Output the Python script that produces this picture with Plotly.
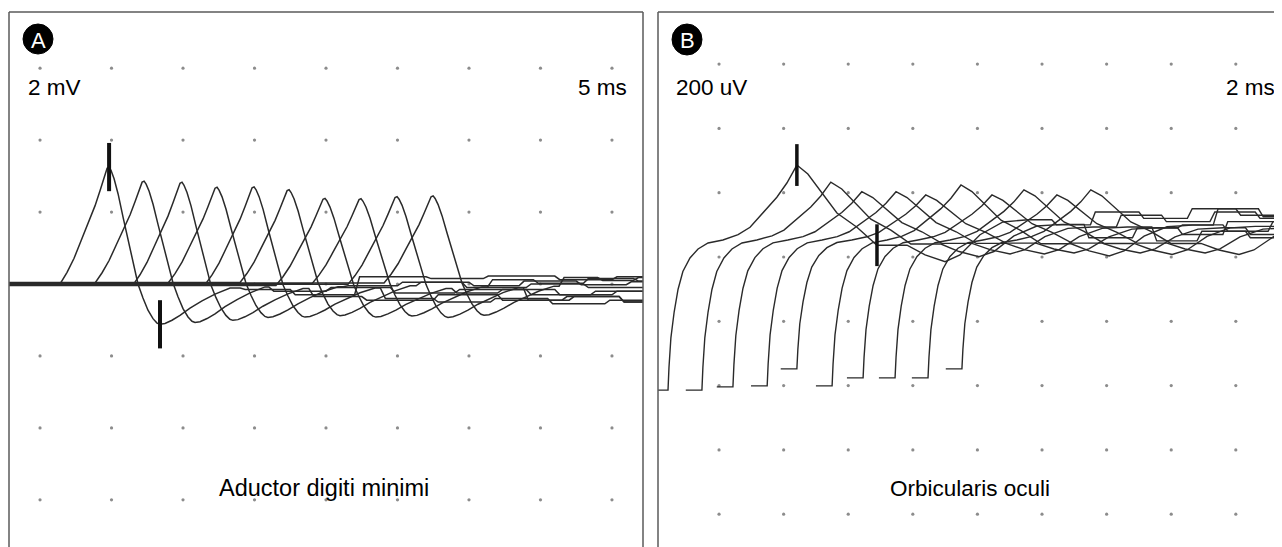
import plotly.graph_objects as go

# page body has an 8 px margin: the figure covers window pixels 8..1282 x 8..547
OFF = 8
W, H = 1282 - OFF, 547 - OFF
FONT = "Liberation Sans, Arial, sans-serif"
LINE = "#2a2a2a"

# ---------------- Panel A : Aductor digiti minimi (5 ms/div, 2 mV/div) ----------------
A_onset_ms = [1.40, 3.85, 6.50, 8.95, 11.54, 13.99, 16.50, 19.02, 21.54, 24.06]
A_base_mV = [0.0, 0.03, -0.03, 0.02, -0.02, 0.04, -0.04, 0.01, -0.01, 0.03]
A_peak_mV = [3.25, 2.83, 2.86, 2.67, 2.72, 2.58, 2.42, 2.36, 2.44, 2.42]
A_trough_mV = [-1.12, -1.10, -0.98, -0.95, -0.90, -0.92, -0.88, -0.90, -0.92, -0.90]
# waveform of the first sweep: time after onset (ms) and amplitude relative to peak / trough
A_shape_ms = [0.0, 0.49, 0.98, 1.47, 1.96, 2.45, 2.80, 3.01, 3.15, 3.29, 3.43, 3.57, 3.78, 4.06,
              4.41, 4.76, 5.10, 5.45,
              5.80, 6.15, 6.50, 6.78, 6.99, 7.34, 7.83, 8.39, 9.09, 9.93, 10.84, 11.89]
A_shape_rel = [0, .10, .22, .37, .52, .67, .80, .89, .95, .99, 1.0, .97, .90, .77,
               .57, .37, .17, 0,
               -.35, -.65, -.86, -.97, -1.0, -.98, -.90, -.78, -.60, -.42, -.25, -.10]
# late baseline of each sweep: (time ms, level mV) knots
A_tail = [
    [(14.0, -0.15), (17.5, -0.30), (22.0, 0.20), (27.0, 0.15), (31.0, 0.22), (36.0, 0.12), (40.0, 0.20)],
    [(16.0, -0.20), (20.0, -0.10), (24.5, -0.25), (29.0, -0.15), (34.0, -0.30), (38.5, -0.20)],
    [(18.8, -0.35), (22.5, -0.45), (27.5, -0.30), (32.0, -0.45), (36.5, -0.35), (40.5, -0.50)],
    [(21.2, -0.05), (25.0, 0.05), (29.5, -0.10), (34.0, 0.00), (38.0, -0.10)],
    [(23.8, -0.40), (27.5, -0.50), (31.5, -0.40), (35.5, -0.55), (39.5, -0.45)],
    [(26.3, 0.05), (30.0, -0.05), (33.5, 0.08), (37.5, -0.02), (41.0, 0.06)],
    [(28.8, -0.25), (32.0, -0.15), (36.0, -0.30), (40.0, -0.20)],
    [(31.3, 0.12), (34.5, 0.02), (38.0, 0.15), (41.5, 0.08)],
    [(33.8, -0.45), (37.0, -0.35), (40.5, -0.50)],
    [(36.3, 0.18), (39.0, 0.10), (41.5, 0.18)],
]
A_xrange = [-2.17, 42.17]
A_yrange = [-7.31, 7.56]
A_dot_x = [0, 5, 10, 15, 20, 25, 30, 35, 40]
A_dot_y = [-6, -4, -2, 0, 2, 4, 6]
A_marker_half = 0.67

# ---------------- Panel B : Orbicularis oculi (2 ms/div, 200 uV/div) ----------------
B_onset_ms = [-1.58, -0.53, 0.43, 1.49, 2.41, 3.50, 4.46, 5.45, 6.47, 7.52]
B_floor_uV = [-414, -414, -404, -401, -348, -401, -376, -376, -376, -348]
B_level_uV = 53
B_peak_uV = [233, 180, 150, 150, 140, 171, 140, 156, 140, 156]
# recovery from the stimulus offset: time after onset (ms), fraction of the way to the level
B_rise_ms = [-0.50, 0.0, 0.03, 0.09, 0.19, 0.31, 0.46, 0.68, 0.93, 1.24, 1.70]
B_rise_frac = [0, 0, .15, .35, .52, .67, .79, .88, .94, .98, 1.0]
# response of the first sweep: time after onset (ms), amplitude relative to peak
B_resp_ms = [2.17, 2.54, 2.94, 3.37, 3.68, 3.99, 4.33, 4.80, 5.23, 5.85, 6.47, 7.40, 7.96, 8.58,
             9.04, 9.66, 10.37, 11.15]
B_resp_rel = [.07, .17, .36, .57, .76, 1.0, .88, .60, .36, .17, -.07, -.07, -.20, -.29, -.20, .07, .24, .27]
B_tail = [
    [(10.3, 100), (11.5, 140), (13.0, 120), (14.5, 150), (16.0, 130), (17.5, 160)],
    [(11.3, 60), (12.8, 90), (14.2, 70), (15.6, 110), (17.5, 95)],
    [(12.3, 130), (13.7, 110), (15.2, 140), (16.6, 120)],
    [(13.4, 50), (14.8, 80), (16.3, 60), (17.5, 75)],
    [(14.2, 100), (15.6, 80), (17.0, 110)],
    [(15.3, 150), (16.7, 125)],
    [(16.3, 70), (17.4, 95)],
    [(17.2, 40)],
    [],
    [],
]
B_xrange = [-1.89, 17.43]
B_yrange = [-902, 762]
B_dot_x = [0, 2, 4, 6, 8, 10, 12, 14, 16]
B_dot_y = [-800, -600, -400, -200, 0, 200, 400, 600]
B_marker_idx = [5, 10]   # response points marked by cursors on the first sweep
B_marker_half = 65


def add_steps(xs, ys, knots, ramp):
    for t, lvl in knots:
        xs += [t, t + ramp]
        ys += [ys[-1], lvl]
    return xs, ys


fig = go.Figure()

# grid dots
for xa, ya, dx, dy in [("x", "y", A_dot_x, A_dot_y), ("x2", "y2", B_dot_x, B_dot_y)]:
    gx = [x for x in dx for _ in dy]
    gy = [y for _ in dx for y in dy]
    fig.add_trace(go.Scatter(x=gx, y=gy, mode="markers", xaxis=xa, yaxis=ya,
                             marker=dict(size=3.2, color="#8c8c8c"), hoverinfo="skip",
                             showlegend=False))

# panel A sweeps
for k, t0 in enumerate(A_onset_ms):
    b0 = A_base_mV[k]
    xs = [A_xrange[0]] + [t0 + s for s in A_shape_ms]
    ys = [b0] + [b0 + (r * A_peak_mV[k] if r >= 0 else -r * A_trough_mV[k]) for r in A_shape_rel]
    xs, ys = add_steps(xs, ys, A_tail[k], 0.35)
    xs.append(A_xrange[1])
    ys.append(ys[-1])
    fig.add_trace(go.Scatter(x=xs, y=ys, mode="lines", xaxis="x", yaxis="y",
                             line=dict(color=LINE, width=1.5), showlegend=False, hoverinfo="skip"))

# panel A cursors on the first sweep (peak and trough)
ipk = A_shape_rel.index(1.0)
itr = A_shape_rel.index(-1.0)
for i, amp in [(ipk, A_peak_mV[0]), (itr, A_trough_mV[0])]:
    xc = A_onset_ms[0] + A_shape_ms[i]
    fig.add_trace(go.Scatter(x=[xc, xc], y=[amp - A_marker_half, amp + A_marker_half], mode="lines",
                             xaxis="x", yaxis="y", line=dict(color="#111", width=4),
                             showlegend=False, hoverinfo="skip"))

# panel B sweeps
for k, t0 in enumerate(B_onset_ms):
    fl = B_floor_uV[k]
    xs = [t0 + s for s in B_rise_ms]
    ys = [fl + f * (B_level_uV - fl) for f in B_rise_frac]
    xs += [t0 + s for s in B_resp_ms]
    ys += [B_level_uV + r * B_peak_uV[k] for r in B_resp_rel]
    xs, ys = add_steps(xs, ys, B_tail[k], 0.15)
    xs.append(B_xrange[1] + 0.5)
    ys.append(ys[-1])
    fig.add_trace(go.Scatter(x=xs, y=ys, mode="lines", xaxis="x2", yaxis="y2",
                             line=dict(color=LINE, width=1.4), showlegend=False, hoverinfo="skip"))

for i in B_marker_idx:
    xc = B_onset_ms[0] + B_resp_ms[i]
    yc = B_level_uV + B_resp_rel[i] * B_peak_uV[0]
    fig.add_trace(go.Scatter(x=[xc, xc], y=[yc - B_marker_half, yc + B_marker_half], mode="lines",
                             xaxis="x2", yaxis="y2", line=dict(color="#111", width=3.5),
                             showlegend=False, hoverinfo="skip"))


def px(x):
    return (x - OFF) / W


def py(y):
    return 1 - (y - OFF) / H


ax_common = dict(showgrid=False, zeroline=False, showticklabels=False, ticks="", showline=False,
                 fixedrange=True)
fig.update_layout(
    width=W, height=H, margin=dict(l=0, r=0, t=0, b=0),
    paper_bgcolor="white", plot_bgcolor="white", showlegend=False,
    xaxis=dict(domain=[px(9), px(643)], range=A_xrange, **ax_common),
    yaxis=dict(domain=[0, py(12)], range=A_yrange, **ax_common),
    xaxis2=dict(domain=[px(658), 1], range=B_xrange, anchor="y2", **ax_common),
    yaxis2=dict(domain=[0, py(12)], range=B_yrange, anchor="x2", **ax_common),
)

border = dict(color="#5a5a5a", width=1.5)
shapes = [
    dict(type="line", xref="paper", yref="paper", x0=px(9), x1=px(9), y0=0, y1=py(12), line=border),
    dict(type="line", xref="paper", yref="paper", x0=px(9), x1=px(643), y0=py(12), y1=py(12), line=border),
    dict(type="line", xref="paper", yref="paper", x0=px(643), x1=px(643), y0=0, y1=py(12), line=border),
    dict(type="line", xref="paper", yref="paper", x0=px(658), x1=px(658), y0=0, y1=py(12), line=border),
    dict(type="line", xref="paper", yref="paper", x0=px(658), x1=1, y0=py(12), y1=py(12), line=border),
    dict(type="circle", xref="paper", yref="paper", x0=px(23), x1=px(53), y0=py(54), y1=py(24),
         fillcolor="black", line=dict(color="black", width=1)),
    dict(type="circle", xref="paper", yref="paper", x0=px(672), x1=px(702), y0=py(55), y1=py(24),
         fillcolor="black", line=dict(color="black", width=1)),
]
fig.update_layout(shapes=shapes)


def note(text, x, y, xanchor="left", size=22, color="black"):
    fig.add_annotation(text=text, x=px(x), y=py(y), xref="paper", yref="paper", showarrow=False,
                       xanchor=xanchor, yanchor="middle", font=dict(family=FONT, size=size, color=color))


note("A", 38, 40, "center", 22, "white")
note("B", 687, 40, "center", 22, "white")
note("2 mV", 26, 87, size=22.5)
note("5 ms", 629, 87, "right", size=22.5)
note("200 uV", 674, 87, size=22.5)
note("2 ms", 1277, 87, "right", size=22.5)
note("Aductor digiti minimi", 324, 488, "center", size=23.5)
note("Orbicularis oculi", 970, 488, "center", size=22.5)

fig.write_html("out.html")
